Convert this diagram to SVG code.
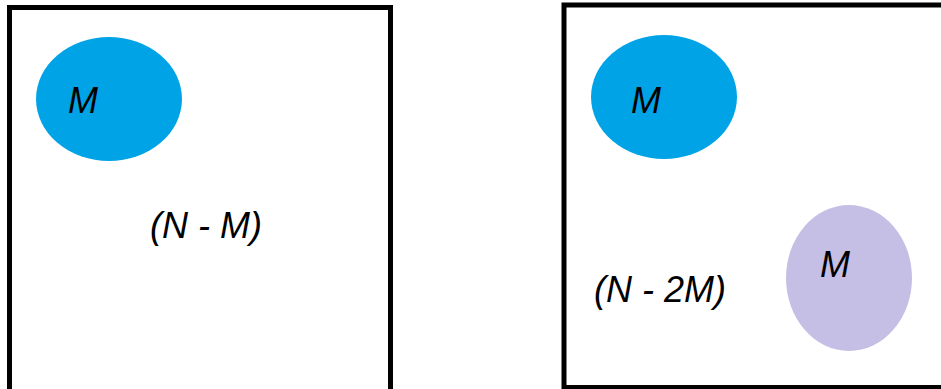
<svg xmlns="http://www.w3.org/2000/svg" width="941" height="389" viewBox="0 0 941 389">
<style>
.box{fill:#fff;stroke:#000;stroke-width:5}
.t{font-family:"Liberation Sans",Arial,sans-serif;font-style:italic;font-size:36px;fill:#000}
.blue{fill:#00A3E6}
.purple{fill:#C5BFE6}
</style>
<rect width="941" height="389" fill="#fff"/>
<g id="left-box">
<rect class="box" x="9.5" y="7.5" width="381" height="386"/>
<text class="t" x="150" y="238">(N - M)</text>
</g>
<g id="left-M">
<ellipse class="blue" cx="109" cy="99" rx="73" ry="62"/>
<text class="t" x="68" y="113">M</text>
</g>
<g id="right-box">
<rect class="box" x="564" y="5" width="390" height="382.5"/>
<text class="t" x="594" y="302">(N - 2M)</text>
</g>
<g id="right-M1">
<ellipse class="blue" cx="664" cy="97" rx="73" ry="62"/>
<text class="t" x="631" y="113">M</text>
</g>
<g id="right-M2">
<ellipse class="purple" cx="849" cy="278" rx="63" ry="73"/>
<text class="t" x="820" y="277">M</text>
</g>
<g id="connectors"/>
</svg>
